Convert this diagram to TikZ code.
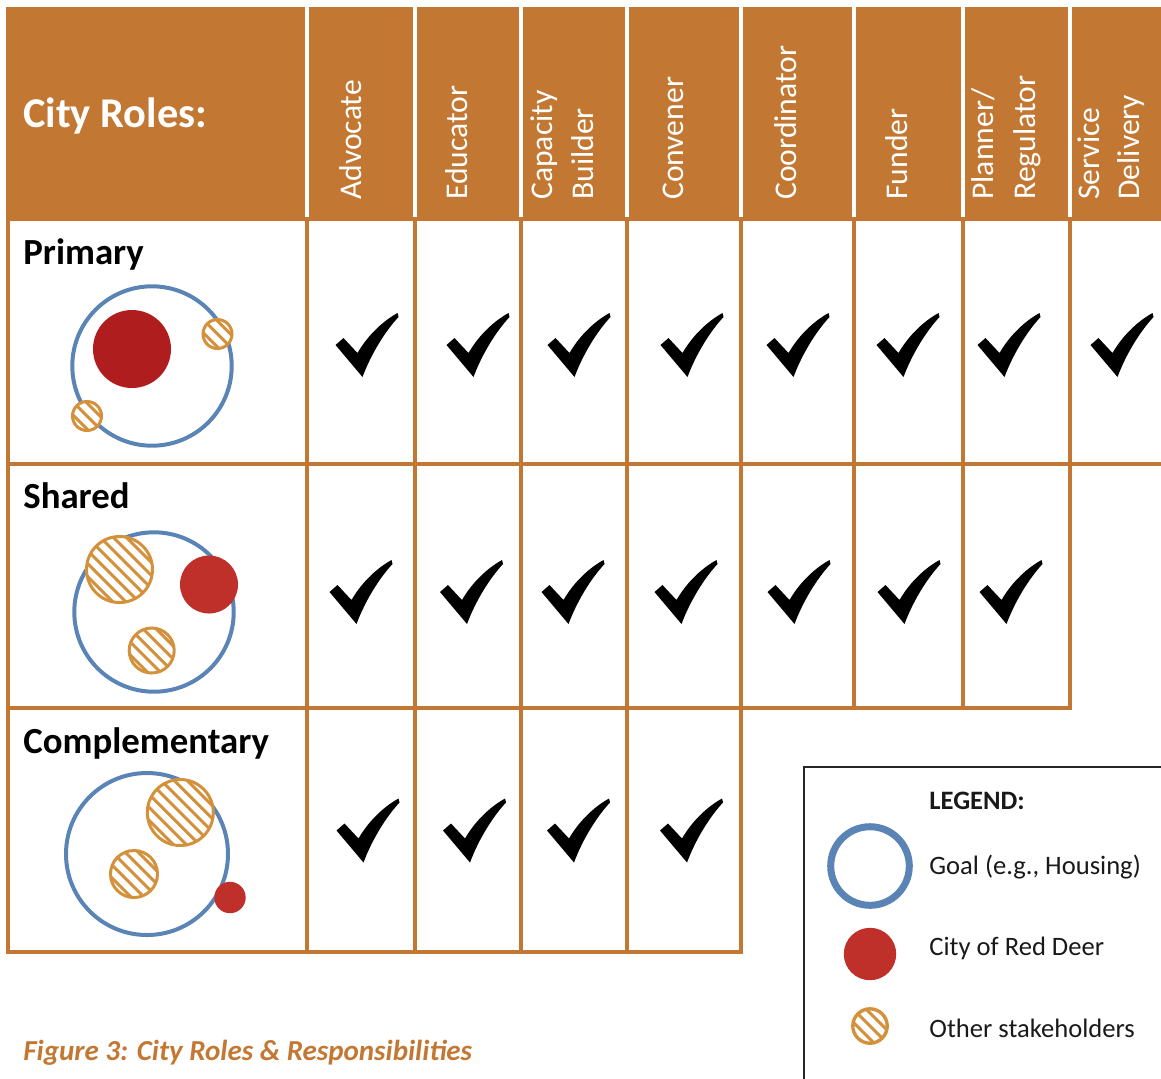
\documentclass[tikz,border=0pt]{standalone}
\usepackage{fontspec}
\setmainfont{Carlito}
\definecolor{hdrcol}{HTML}{C27833}
\definecolor{goalblue}{HTML}{5A84B5}
\definecolor{cityred}{HTML}{C0302A}
\definecolor{cityreddark}{HTML}{B01D1F}
\definecolor{hatchcol}{HTML}{D4913C}
\newcommand\hatchcirc[4]{% x y r linewidth
  \fill[white] (#1,#2) circle[radius=#3];
  \begin{scope}[shift={(#1,#2)}]
    \clip (0,0) circle[radius=#3];
    \foreach \k in {-6,...,6} \draw[hatchcol, line width=1.5pt] (\k*13-90,-90) -- (\k*13+90,90);
  \end{scope}
  \draw[hatchcol, line width=#4] (#1,#2) circle[radius=#3];
}
\tikzset{
  tick/.pic={\fill[black] (-31.5,0) -- (-23.5,-7) -- (-9.5,8) .. controls (-1.5,-6) and (12.5,-22) .. (30.5,-32) -- (31.5,-28) .. controls (18.5,-14) and (4.5,8) .. (-4.5,32) -- cycle;},
  gl/.style={hdrcol, line width=2pt, line cap=rect},
  collab/.style={font=\fontsize{15.8}{19}\selectfont, text=white, rotate=90, anchor=base west, inner sep=0pt},
  rowlab/.style={font=\fontsize{18.4}{22}\selectfont\bfseries, text=black, anchor=base west, inner sep=0pt},
  legtxt/.style={font=\fontsize{13.3}{16}\selectfont, text=black!90, anchor=base west, inner sep=0pt}
}
\begin{document}
\begin{tikzpicture}[x=0.5pt,y=-0.5pt]
\useasboundingbox (0,0) rectangle (1161,1078);
% header cells
\foreach \a/\b in {6/305, 309/413, 417/519, 523/625, 629/739, 743/852, 856/961, 965/1068, 1072/1161}
  \fill[hdrcol] (\a,7) rectangle (\b,219);
% grid
\draw[gl] (8,219) -- (1161,219);
\draw[gl] (8,464) -- (1161,464);
\draw[gl] (8,708) -- (1070,708);
\draw[gl] (8,952) -- (741,952);
\draw[gl] (8,219) -- (8,952);
\foreach \x in {307,415,521,627,741} \draw[gl] (\x,219) -- (\x,952);
\foreach \x in {854,963,1070} \draw[gl] (\x,219) -- (\x,708);
% header texts
\node[font=\fontsize{21.2}{25}\selectfont\bfseries, text=white, anchor=base west, inner sep=0pt] (title) at (23,127) {City Roles:};
\node[collab] (advocate) at (361,200) {Advocate};
\node[collab] (educator) at (467,200) {Educator};
\node[collab] (capacity) at (552,200) {Capacity};
\node[collab] (builder) at (593,200) {Builder};
\node[collab] (convener) at (683,200) {Convener};
\node[collab] (coordinator) at (796,200) {Coordinator};
\node[collab] (funder) at (907,200) {Funder};
\node[collab] (planner) at (993,200) {Planner/};
\node[collab] (regulator) at (1035,200) {Regulator};
\node[collab] (service) at (1099,200) {Service};
\node[collab] (delivery) at (1139,200) {Delivery};
% row labels
\node[rowlab] (primary) at (23,264) {Primary};
\node[rowlab] (shared) at (23,508) {Shared};
\node[rowlab] (complementary) at (23,753) {Complementary};
% primary icon
\draw[goalblue, line width=2pt] (152,366) circle[radius=79.7];
\fill[cityreddark] (132,349) circle[radius=39];
\hatchcirc{217.5}{334}{14.5}{1.5pt}
\hatchcirc{87}{416}{14.5}{1.5pt}
% shared icon
\draw[goalblue, line width=2pt] (154,612) circle[radius=79.7];
\hatchcirc{119.5}{569.5}{33}{1.5pt}
\hatchcirc{151.7}{650.5}{22.5}{1.5pt}
\fill[cityred] (209,584.5) circle[radius=29];
% complementary icon
\draw[goalblue, line width=2pt] (147,854) circle[radius=81];
\hatchcirc{180.3}{812.5}{33}{1.5pt}
\hatchcirc{134}{874}{23.5}{1.5pt}
\fill[cityred] (230,897.5) circle[radius=15.7];
% checks
\foreach \x in {367,478,579,692,798,908,1009,1122} \pic at (\x,345) {tick};
\foreach \x in {361,471.5,573,686,799,909,1011} \pic at (\x,592) {tick};
\foreach \x in {368,474.5,578.5,691.5} \pic at (\x,830.5) {tick};
% legend
\draw[black!85, line width=1pt] (804,1080) -- (804,767) -- (1163,767);
\node[legtxt, font=\fontsize{13.3}{16}\selectfont\bfseries] (legend) at (929,809) {LEGEND:};
\draw[goalblue, line width=3.5pt] (870,866) circle[radius=39.3];
\node[legtxt] (goal) at (929,874) {Goal (e.g., Housing)};
\fill[cityred] (870,954) circle[radius=26.2];
\node[legtxt] (city) at (929,955) {City of Red Deer};
\hatchcirc{870}{1026}{17.2}{1.7pt}
\node[legtxt] (other) at (929,1037) {Other stakeholders};
% caption
\node[font=\fontsize{14.5}{17}\selectfont\bfseries\itshape, text=hdrcol, anchor=base west, inner sep=0pt] (caption) at (23,1060) {Figure 3: City Roles \& Responsibilities};
\end{tikzpicture}
\end{document}
